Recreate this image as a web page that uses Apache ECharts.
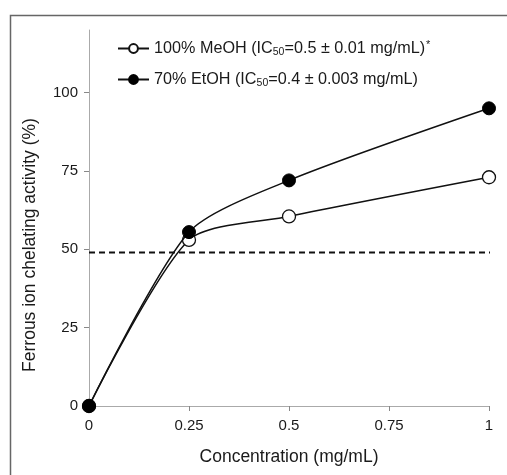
<!DOCTYPE html>
<html>
<head>
<meta charset="utf-8">
<script src="https://cdn.jsdelivr.net/npm/echarts@6/dist/echarts.min.js"></script>
<style>
  html, body { margin: 0; padding: 0; background: #fff; }
  #chart { width: 507px; height: 475px; }
</style>
</head>
<body>
<div id="chart"></div>
<script>
// 数据
const concentrations = [0, 0.25, 0.5, 1]
const meohValues = [0, 53, 60.5, 73]
const etohValues = [0, 55.5, 72, 95]
const cutoffLine = [[0, 49], [1.01, 49]]
const xTicks = [0, 0.25, 0.5, 0.75, 1]
const yTicks = [0, 25, 50, 75, 100]

const toPoints = vals => concentrations.map((c, i) => [c, vals[i]])

const myChart = echarts.init(document.getElementById('chart'))
const font = 'Liberation Sans, Arial, sans-serif'

myChart.setOption({
  animation: false,
  textStyle: { fontFamily: font },
  graphic: [{
    type: 'rect',
    shape: { x: 10.5, y: 15.5, width: 520, height: 480 },
    style: { fill: 'none', stroke: '#666', lineWidth: 1.5 },
    silent: true
  }],
  grid: { left: 89, right: 18, top: 30, bottom: 69 },
  legend: {
    orient: 'vertical',
    left: 112,
    top: 34,
    itemGap: 13,
    itemWidth: 31,
    itemHeight: 11,
    data: ['meoh', 'etoh'],
    formatter: name => name === 'meoh'
      ? '{a|100% MeOH (IC}{s|50}{a|=0.5 ± 0.01 mg/mL)}{p|*}'
      : '{a|70% EtOH (IC}{s|50}{a|=0.4 ± 0.003 mg/mL)}',
    textStyle: {
      rich: {
        a: { fontSize: 16.2, color: '#1a1a1a', fontFamily: font, verticalAlign: 'middle', lineHeight: 19 },
        s: { fontSize: 10.5, color: '#1a1a1a', fontFamily: font, verticalAlign: 'bottom', padding: [7, 0, 0, 0], lineHeight: 19 },
        p: { fontSize: 11, color: '#1a1a1a', fontFamily: font, verticalAlign: 'top', padding: [0, 0, 6, 1], lineHeight: 19 }
      }
    }
  },
  xAxis: {
    type: 'value',
    min: 0,
    max: 1,
    interval: 0.25,
    name: 'Concentration (mg/mL)',
    nameLocation: 'middle',
    nameGap: 42,
    nameTextStyle: { fontSize: 17.5, color: '#1a1a1a' },
    axisLine: { show: true, lineStyle: { color: '#aaa', width: 1 } },
    axisTick: { show: true, interval: 0, length: 5, lineStyle: { color: '#888', width: 1 } },
    axisLabel: { fontSize: 15, color: '#1a1a1a', margin: 12, formatter: v => String(v) },
    splitLine: { show: false }
  },
  yAxis: {
    type: 'value',
    min: 0,
    max: 120,
    interval: 25,
    name: 'Ferrous ion chelating activity (%)',
    nameLocation: 'middle',
    nameGap: 50,
    nameTextStyle: { fontSize: 17.5, color: '#1a1a1a', padding: [0, 54, 0, 0] },
    axisLine: { show: true, lineStyle: { color: '#aaa', width: 1 } },
    axisTick: { show: true, interval: 0, length: 5, lineStyle: { color: '#888', width: 1 } },
    axisLabel: {
      fontSize: 15, color: '#1a1a1a', margin: 11,
      showMaxLabel: false,
      formatter: v => (yTicks.includes(v) ? String(v) : '')
    },
    splitLine: { show: false }
  },
  series: [
    {
      name: 'cutoff',
      type: 'line',
      data: cutoffLine,
      symbol: 'none',
      lineStyle: { color: '#111', width: 2, type: [6, 4] },
      z: 1
    },
    {
      name: 'meoh',
      type: 'line',
      data: toPoints(meohValues),
      smooth: 0.25,
      symbol: 'circle',
      symbolSize: 13,
      lineStyle: { color: '#111', width: 1.5 },
      itemStyle: { color: '#fff', borderColor: '#111', borderWidth: 1.3 },
      z: 2
    },
    {
      name: 'etoh',
      type: 'line',
      data: toPoints(etohValues),
      smooth: 0.25,
      symbol: 'circle',
      symbolSize: 13,
      lineStyle: { color: '#111', width: 1.5 },
      itemStyle: { color: '#000', borderColor: '#000', borderWidth: 1 },
      z: 3
    }
  ]
})
</script>
</body>
</html>
